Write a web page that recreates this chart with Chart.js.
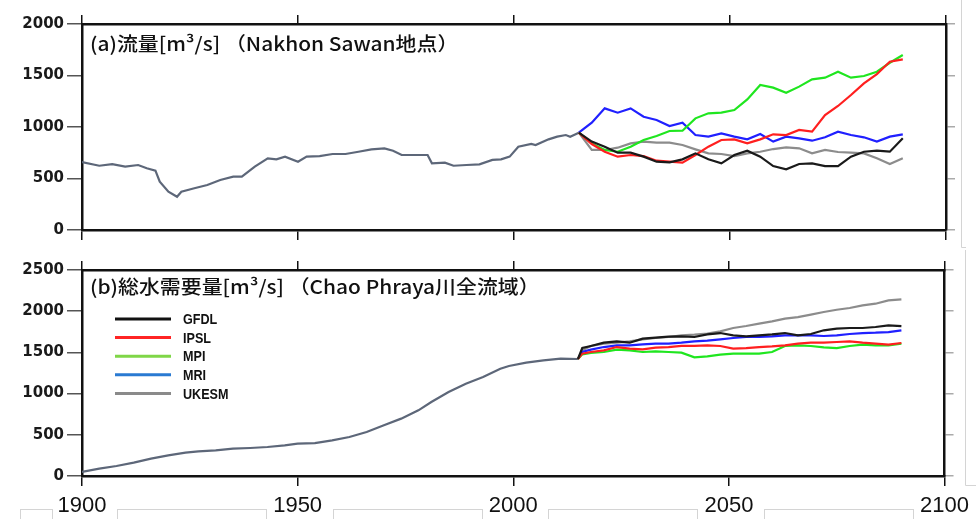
<!DOCTYPE html>
<html>
<head>
<meta charset="utf-8">
<script src="https://cdn.jsdelivr.net/npm/chart.js@4/dist/chart.umd.min.js"></script>
<style>
  body { margin: 0; background: #fff; }
  .panel { position: absolute; left: 0; }
</style>
</head>
<body>
<div class="panel" style="top:0"><canvas id="flowChart" width="976" height="250"></canvas></div>
<div class="panel" style="top:250px"><canvas id="demandChart" width="976" height="269"></canvas></div>
<script>
  // 観測・再現期間 (1900-2015)
  const histFlowYears = [1900, 1904, 1907, 1910, 1913, 1915, 1917, 1918, 1920, 1922, 1923, 1926, 1929, 1932, 1935, 1937,
    1940, 1943, 1945, 1947, 1950, 1952, 1955, 1958, 1961, 1964, 1967, 1970, 1972, 1974, 1977, 1980, 1981, 1984,
    1986, 1989, 1992, 1995, 1997, 1999, 2001, 2004, 2005, 2008, 2010, 2012, 2013, 2015];
  const histFlow = [660, 624, 640, 615, 631, 600, 576, 469, 372, 323, 372, 405, 437, 485, 518, 518,
    615, 696, 686, 712, 663, 712, 718, 738, 738, 760, 783, 793, 770, 728, 728, 728, 647, 654,
    624, 631, 638, 680, 686, 712, 809, 835, 825, 880, 906, 922, 906, 945];

  const histDemandYears = [1900, 1904, 1908, 1912, 1916, 1920, 1924, 1927, 1931, 1935, 1939, 1943, 1947, 1950, 1954,
    1958, 1962, 1966, 1970, 1974, 1978, 1981, 1985, 1989, 1993, 1997, 1999, 2003, 2007, 2011, 2015];
  const histDemand = [50, 89, 121, 162, 210, 251, 283, 299, 311, 332, 340, 352, 372, 392, 400,
    433, 473, 534, 615, 696, 797, 898, 1019, 1120, 1201, 1302, 1335, 1375, 1404, 1425, 1420];

  // 将来予測 (2015-2090)
  const models = ['GFDL', 'IPSL', 'MPI', 'MRI', 'UKESM'];
  const flowYears = [2015, 2018, 2021, 2024, 2027, 2030, 2033, 2036, 2039, 2042, 2045, 2048, 2051,
    2054, 2057, 2060, 2063, 2066, 2069, 2072, 2075, 2078, 2081, 2084, 2087, 2090];
  const flowGFDL = [945, 858, 809, 751, 751, 712, 663, 657, 686, 744, 686, 647, 728, 770, 712, 621, 589, 641, 647, 621, 621, 712, 760, 770, 760, 890];
  const flowIPSL = [945, 835, 760, 712, 728, 718, 673, 663, 654, 728, 809, 874, 880, 841, 880, 929, 922, 971, 955, 1116, 1204, 1311, 1424, 1514, 1634, 1657];
  const flowMPI = [945, 841, 777, 760, 809, 874, 913, 961, 964, 1084, 1133, 1139, 1165, 1268, 1408, 1382, 1333, 1392, 1463, 1479, 1537, 1479, 1495, 1537, 1624, 1699];
  const flowMRI = [945, 1042, 1181, 1139, 1181, 1100, 1068, 1010, 1042, 922, 906, 938, 906, 880, 932, 858, 906, 890, 867, 900, 955, 922, 900, 858, 906, 929];
  const flowUKESM = [945, 777, 777, 799, 841, 858, 848, 848, 825, 783, 744, 738, 718, 744, 760, 786, 803, 793, 744, 777, 757, 751, 744, 696, 641, 696];

  const demandYears = [2015, 2016, 2018, 2021, 2024, 2027, 2030, 2033, 2036, 2039, 2042, 2045, 2048, 2051,
    2054, 2057, 2060, 2063, 2066, 2069, 2072, 2075, 2078, 2081, 2084, 2087, 2090];
  const demandGFDL = [1420, 1553, 1578, 1618, 1634, 1618, 1667, 1679, 1691, 1695, 1687, 1719, 1735, 1707, 1695, 1707, 1719, 1735, 1707, 1723, 1768, 1788, 1796, 1796, 1808, 1828, 1820];
  const demandIPSL = [1420, 1485, 1505, 1525, 1565, 1545, 1537, 1557, 1565, 1578, 1578, 1586, 1578, 1545, 1553, 1565, 1573, 1586, 1606, 1618, 1618, 1626, 1634, 1618, 1606, 1594, 1614];
  const demandMPI = [1420, 1477, 1493, 1505, 1533, 1525, 1505, 1513, 1505, 1497, 1440, 1452, 1472, 1485, 1485, 1485, 1505, 1578, 1586, 1578, 1561, 1553, 1578, 1594, 1586, 1586, 1606];
  const demandMRI = [1420, 1505, 1533, 1565, 1586, 1586, 1598, 1606, 1606, 1618, 1634, 1642, 1659, 1675, 1687, 1687, 1695, 1707, 1707, 1707, 1699, 1707, 1723, 1735, 1739, 1747, 1768];
  const demandUKESM = [1420, 1525, 1578, 1606, 1618, 1634, 1659, 1675, 1687, 1707, 1715, 1727, 1756, 1796, 1820, 1849, 1877, 1909, 1929, 1958, 1990, 2018, 2039, 2071, 2091, 2132, 2144];

  const xTicks = [1900, 1950, 2000, 2050, 2100];
  const flowTicks = [0, 500, 1000, 1500, 2000];
  const demandTicks = [0, 500, 1000, 1500, 2000, 2500];

  const lineColors = ['#1a1a1a', '#ff1f1f', '#1fe61f', '#2020ff', '#8c8c8c'];
  const legendColors = ['#111111', '#ff2424', '#7fd647', '#2a7ad2', '#8a8a8a'];
  const histColor = '#5d6779';

  const pts = (xs, ys) => xs.map((x, i) => ({ x: x, y: ys[i] }));

  function buildDatasets(years, series, hYears, hVals) {
    const sets = series.map((vals, i) => ({
      label: models[i],
      data: pts(years, vals),
      borderColor: lineColors[i],
      legendColor: legendColors[i],
      borderWidth: 2.2,
      pointRadius: 0,
      tension: 0
    }));
    sets.push({
      label: 'hist',
      data: pts(hYears, hVals),
      borderColor: histColor,
      borderWidth: 2.2,
      pointRadius: 0,
      tension: 0
    });
    return sets;
  }

  // 横方向に伸ばした文字 (元図は横長)
  function wideText(ctx, text, x, y, sx) {
    ctx.save();
    ctx.translate(x, y);
    ctx.scale(sx, 1);
    ctx.fillText(text, 0, 0);
    ctx.restore();
  }

  // パネル見出しと凡例
  const panelText = {
    id: 'panelText',
    afterDraw(chart, args, opts) {
      const ctx = chart.ctx;
      const area = chart.chartArea;
      ctx.save();
      ctx.fillStyle = '#111';
      ctx.font = '500 19px "Noto Sans CJK JP"';
      ctx.textBaseline = 'middle';
      wideText(ctx, opts.title, area.left + 8, area.top + opts.titleY, 1.1);
      if (opts.legend) {
        ctx.font = 'bold 15px "Liberation Sans"';
        chart.data.datasets.filter(d => d.legendColor).forEach((d, i) => {
          const y = area.top + 49 + i * 18.6;
          ctx.strokeStyle = d.legendColor;
          ctx.lineWidth = 3;
          ctx.beginPath();
          ctx.moveTo(115, y);
          ctx.lineTo(171, y);
          ctx.stroke();
          ctx.fillStyle = '#111';
          wideText(ctx, d.label, 183, y + 1, 0.84);
        });
      }
      ctx.strokeStyle = '#d4d4d4';
      ctx.lineWidth = 1;
      if (opts.boxes) {
        // 目盛ラベル周りの薄い枠
        const xs = chart.scales.x;
        const top = area.bottom + 33;
        ctx.strokeRect(20.5, top + 0.5, 32, 40);
        for (let i = 0; i < xTicks.length - 1; i++) {
          const a = xs.getPixelForValue(xTicks[i]) + 35;
          const b = xs.getPixelForValue(xTicks[i + 1]) - 32;
          ctx.strokeRect(Math.round(a) + 0.5, top + 0.5, Math.round(b - a), 40);
        }
        ctx.beginPath();
        ctx.moveTo(965.5, 0);
        ctx.lineTo(965.5, area.bottom + 9.5);
        ctx.lineTo(976, area.bottom + 9.5);
        ctx.stroke();
      } else {
        ctx.beginPath();
        ctx.moveTo(961.5, 0);
        ctx.lineTo(961.5, area.bottom + 17.5);
        ctx.lineTo(966, area.bottom + 17.5);
        ctx.stroke();
      }
      ctx.restore();
    }
  };

  function makeOptions(yMax, yTickList, cfg) {
    const setH = h => scale => { scale.height = h; };
    const setW = w => scale => { scale.width = w; };
    return {
      responsive: false,
      animation: false,
      layout: { padding: 0 },
      plugins: {
        legend: { display: false },
        tooltip: { enabled: false },
        panelText: { title: cfg.title, titleY: cfg.titleY, legend: cfg.legend, boxes: cfg.labels }
      },
      scales: {
        x: {
          type: 'linear', position: 'bottom', min: 1900, max: 2100,
          afterBuildTicks: s => { s.ticks = xTicks.map(v => ({ value: v })); },
          ticks: {
            display: cfg.labels,
            padding: 7,
            color: '#111',
            font: { family: '"Liberation Sans"', size: 22 },
            callback: v => String(v),
            maxRotation: 0
          },
          grid: { drawOnChartArea: false, tickLength: 10, color: '#111', lineWidth: 1.5 },
          border: { display: true, color: '#111', width: 2.5 },
          afterFit: setH(cfg.bottomH)
        },
        xTop: {
          type: 'linear', position: 'top', min: 1900, max: 2100,
          afterBuildTicks: s => { s.ticks = xTicks.map(v => ({ value: v })); },
          ticks: { display: false },
          grid: { drawOnChartArea: false, tickLength: 9, color: '#111', lineWidth: 1.5 },
          border: { display: true, color: '#111', width: 2.5 },
          afterFit: setH(cfg.topH)
        },
        y: {
          type: 'linear', position: 'left', min: 0, max: yMax,
          afterBuildTicks: s => { s.ticks = yTickList.map(v => ({ value: v })); },
          ticks: {
            padding: 3,
            color: '#1a1a1a',
            font: { family: '"DejaVu Sans"', size: 15, weight: 'bold' },
            callback: v => String(v)
          },
          grid: { drawOnChartArea: false, tickLength: 15, color: '#555', lineWidth: 1.5 },
          border: { display: true, color: '#111', width: 2.5 },
          afterFit: setW(82)
        },
        yRight: {
          type: 'linear', position: 'right', min: 0, max: yMax,
          afterBuildTicks: s => { s.ticks = yTickList.map(v => ({ value: v })); },
          ticks: { display: false },
          grid: { drawOnChartArea: false, tickLength: 9, color: '#aaa', lineWidth: 1.5 },
          border: { display: true, color: '#111', width: 2.5 },
          afterFit: setW(30)
        }
      }
    };
  }

  new Chart(document.getElementById('flowChart'), {
    type: 'line',
    data: { datasets: buildDatasets(flowYears, [flowGFDL, flowIPSL, flowMPI, flowMRI, flowUKESM], histFlowYears, histFlow) },
    options: makeOptions(2000, flowTicks, {
      title: '(a)流量[m³/s] （Nakhon Sawan地点）', titleY: 20, legend: false, labels: false, topH: 24, bottomH: 20
    }),
    plugins: [panelText]
  });

  new Chart(document.getElementById('demandChart'), {
    type: 'line',
    data: { datasets: buildDatasets(demandYears, [demandGFDL, demandIPSL, demandMPI, demandMRI, demandUKESM], histDemandYears, histDemand) },
    options: makeOptions(2500, demandTicks, {
      title: '(b)総水需要量[m³/s] （Chao Phraya川全流域）', titleY: 17, legend: true, labels: true, topH: 20, bottomH: 43
    }),
    plugins: [panelText]
  });
</script>
</body>
</html>
